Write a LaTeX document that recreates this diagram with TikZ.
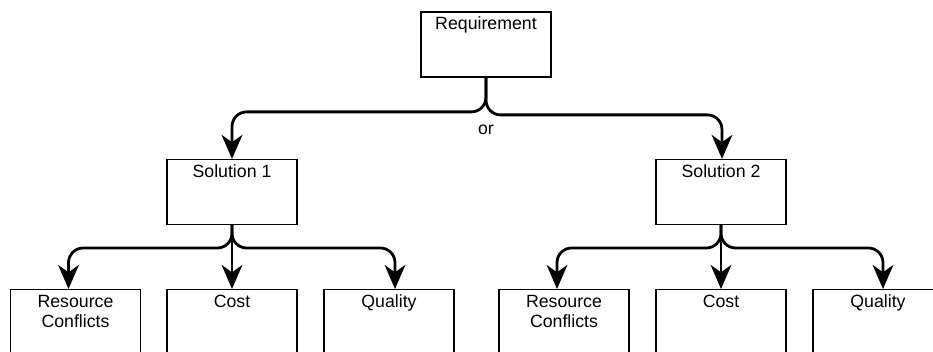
\documentclass[tikz,border=0pt]{standalone}
\usepackage{fontspec}
\setmainfont{Liberation Sans}
\usetikzlibrary{arrows.meta,calc}

\tikzset{
  x=0.75pt, y=-0.75pt,
  box/.style={draw=black, line width=0.9pt, minimum width=97.5pt,
    minimum height=48.75pt, inner sep=0pt, fill=white},
  tallbox/.style={box, minimum height=75pt},
  lbl/.style={font=\fontsize{13.3pt}{15pt}\selectfont, inner sep=0pt,
    align=center, anchor=base},
  conn/.style={line width=2.1pt, rounded corners=11pt,
    -{Stealth[length=18pt, width=15.5pt, inset=5.5pt]}},
}

\begin{document}
\begin{tikzpicture}
  \useasboundingbox (0,0) rectangle (933,352);
  \clip (0,0) rectangle (933,352);

  % top level
  \node[box] (req) at (486,44.5) {};
  \node[lbl] (reqt) at (486,30) {Requirement};

  % the two alternative solutions
  \node[box] (sol1) at (232,192) {};
  \node[lbl] (sol1t) at (232,178) {Solution 1};
  \node[box] (sol2) at (721,192) {};
  \node[lbl] (sol2t) at (721,178) {Solution 2};

  % aspects of each solution
  \node[tallbox, anchor=north] (rc1) at (75.5,289) {};
  \node[tallbox, anchor=north] (co1) at (232,289) {};
  \node[tallbox, anchor=north] (qu1) at (389,289) {};
  \node[tallbox, anchor=north] (rc2) at (564,289) {};
  \node[tallbox, anchor=north] (co2) at (721,289) {};
  \node[tallbox, anchor=north] (qu2) at (878,289) {};

  % two-line labels sit on the baseline of their last line
  \node[lbl] (rc1t) at (75.5,328) {Resource\\Conflicts};
  \node[lbl] (co1t) at (232,308) {Cost};
  \node[lbl] (qu1t) at (389,308) {Quality};
  \node[lbl] (rc2t) at (564,328) {Resource\\Conflicts};
  \node[lbl] (co2t) at (721,308) {Cost};
  \node[lbl] (qu2t) at (878,308) {Quality};

  % requirement splits into alternatives
  \draw[conn] (req.south) |- ($(sol1.north)+(0,-47)$) -- (sol1.north);
  \draw[conn] (req.south) |- ($(sol2.north)+(1,-44)$) -- ($(sol2.north)+(1,0)$);
  \node[lbl] (or) at (486,135) {or};

  % solution 1 branches
  \draw[conn] (sol1.south) |- ($(rc1.north)+(-7,-41)$) -- ($(rc1.north)+(-7,0)$);
  \draw[conn] (sol1.south) -- (co1.north);
  \draw[conn] (sol1.south) |- ($(qu1.north)+(6,-41)$) -- ($(qu1.north)+(6,0)$);

  % solution 2 branches
  \draw[conn] (sol2.south) |- ($(rc2.north)+(-7,-41)$) -- ($(rc2.north)+(-7,0)$);
  \draw[conn] (sol2.south) -- (co2.north);
  \draw[conn] (sol2.south) |- ($(qu2.north)+(5,-41)$) -- ($(qu2.north)+(5,0)$);
\end{tikzpicture}
\end{document}
